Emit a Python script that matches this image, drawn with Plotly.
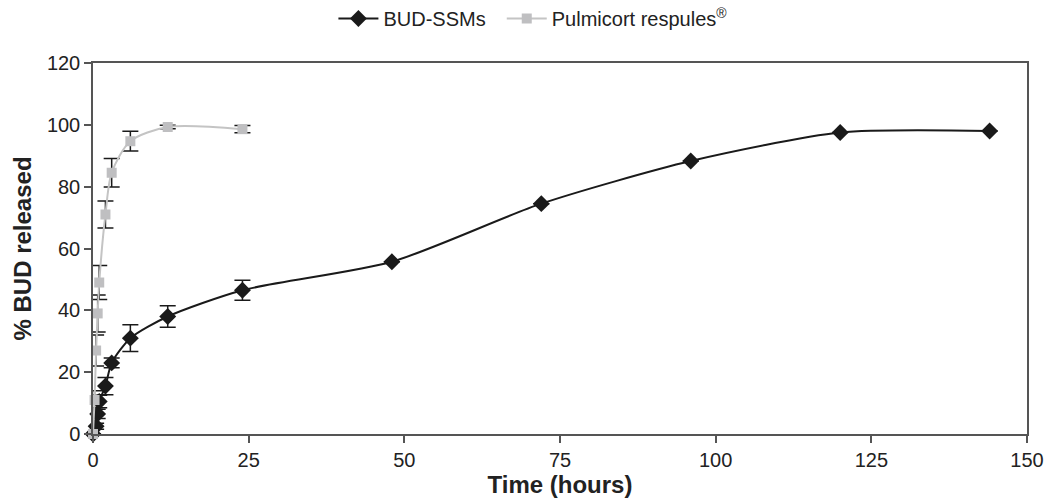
import plotly.graph_objects as go

# BUD-SSMs
bud_t = [0, 0.5, 0.75, 1, 2, 3, 6, 12, 24, 48, 72, 96, 120, 144]
bud_v = [0, 2.5, 6.5, 10.5, 15.5, 23, 31, 38, 46.5, 55.7, 74.5, 88.3, 97.5, 98]
bud_e = [0, 1, 1.5, 2, 2.8, 1.6, 4.3, 3.5, 3.2, 0, 0, 0, 0, 0]

# Pulmicort respules
pul_t = [0, 0.25, 0.5, 0.75, 1, 2, 3, 6, 12, 24]
pul_v = [0, 11, 27, 39, 49, 71, 84.5, 94.7, 99.3, 98.6]
pul_e = [0, 3, 5, 6, 5.5, 4.4, 4.6, 3.2, 0.6, 1.2]

x_ticks = [0, 25, 50, 75, 100, 125, 150]
y_ticks = [0, 20, 40, 60, 80, 100, 120]

fig = go.Figure()
fig.add_trace(go.Scatter(
    x=bud_t, y=bud_v, name="BUD-SSMs&nbsp;&nbsp;", mode="lines+markers",
    line=dict(color="#1a1a1a", width=2, shape="spline", smoothing=0.7),
    marker=dict(symbol="diamond", size=13, color="#1a1a1a"),
    error_y=dict(type="data", array=bud_e, visible=True, color="#1a1a1a", thickness=1.5, width=8),
    cliponaxis=False,
))
fig.add_trace(go.Scatter(
    x=pul_t, y=pul_v, name="Pulmicort respules<sup>®</sup>", mode="lines+markers",
    line=dict(color="#c4c4c4", width=2, shape="spline", smoothing=0.8),
    marker=dict(symbol="square", size=10, color="#bfbfc1"),
    error_y=dict(type="data", array=pul_e, visible=True, color="#1a1a1a", thickness=1.5, width=8),
    cliponaxis=False,
))

axis_common = dict(
    showline=True, linecolor="#555555", linewidth=1.5, mirror=True,
    ticks="outside", ticklen=7, tickcolor="#555555", tickwidth=1.5,
    showgrid=False, zeroline=False, automargin=False,
    tickfont=dict(family="Liberation Sans, Arial, sans-serif", size=20, color="#222222"),
)

fig.update_layout(
    width=1045, height=504,
    margin=dict(l=93, r=18, t=63, b=70, autoexpand=False),
    paper_bgcolor="white", plot_bgcolor="white",
    font=dict(family="Liberation Sans, Arial, sans-serif", color="#222222"),
    legend=dict(orientation="h", x=0.471, xanchor="center", y=1.12, yanchor="middle",
                font=dict(size=20, color="#222222"), itemwidth=40),
    xaxis=dict(range=[0, 150], tickvals=x_ticks,
               title=dict(text="<b>Time (hours)</b>", font=dict(size=24), standoff=6),
               **axis_common),
    yaxis=dict(range=[0, 120], tickvals=y_ticks,
               title=dict(text="<b>% BUD released</b>", font=dict(size=24), standoff=8),
               **axis_common),
)

fig.write_html("out.html")
